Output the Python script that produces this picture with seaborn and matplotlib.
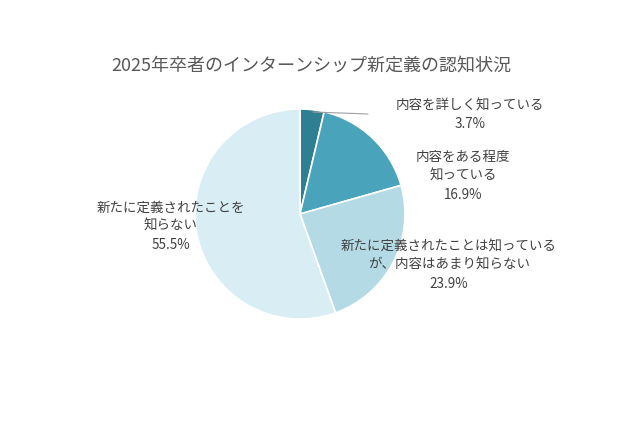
import matplotlib
matplotlib.use("Agg")
import matplotlib.pyplot as plt
import seaborn as sns

sns.set_theme(style="white")
plt.rcParams['font.family'] = ['Noto Sans CJK JP', 'DejaVu Sans']

title = "2025年卒者のインターンシップ新定義の認知状況"
categories = ["内容を詳しく知っている", "内容をある程度\n知っている",
              "新たに定義されたことは知っている\nが、内容はあまり知らない",
              "新たに定義されたことを\n知らない"]
values = [3.7, 16.9, 23.9, 55.5]
colors = sns.color_palette(["#2f7f92", "#48a3bb", "#b4dbe5", "#d9edf4"])

W, H = 640, 426
fig = plt.figure(figsize=(6.4, 4.26), dpi=100)
fig.patch.set_facecolor("white")
cx, cy, r = 300, 214, 105
ax = fig.add_axes([(cx - r) / W, (H - cy - r) / H, 2 * r / W, 2 * r / H])
ax.pie(values, colors=colors, startangle=90, counterclock=False,
       wedgeprops=dict(edgecolor="white", linewidth=1.2))
ax.set_xlim(-1, 1)
ax.set_ylim(-1, 1)
ax.set_aspect("auto")
ax.axis("off")

def fx(x):
    return x / W
def fy(y):
    return 1 - y / H

fig.text(fx(311), fy(66), title, ha="center", va="center", fontsize=13, color="#595959")

label_pos = [(470, 115), (463, 176), (449, 265), (171, 226)]
for cat, v, (x, y) in zip(categories, values, label_pos):
    fig.text(fx(x), fy(y), f"{cat}\n{v:.1f}%", ha="center", va="center",
             fontsize=9.7, color="#404040", linespacing=1.42)

# leader line for smallest slice
fig.add_artist(plt.Line2D([fx(313), fx(368)], [fy(112), fy(114)],
                          color="#a0a0a0", linewidth=0.8, transform=fig.transFigure))

fig.savefig("out.png", dpi=100, facecolor="white")
